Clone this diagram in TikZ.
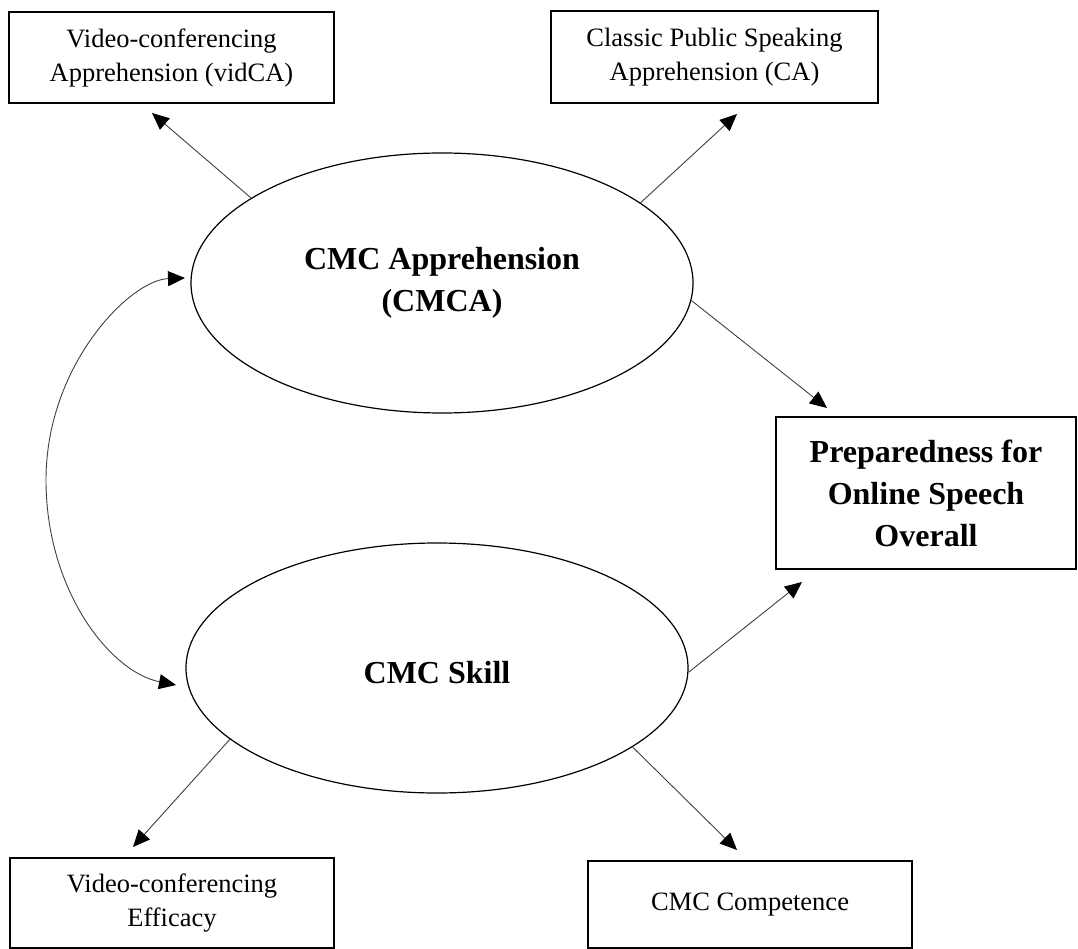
\documentclass[tikz,border=0pt]{standalone}
\usepackage{fontspec}
\setmainfont{Liberation Serif}
\usetikzlibrary{shapes.geometric,arrows.meta}
\begin{document}
\begin{tikzpicture}[x=1pt,y=-1pt,
  box/.style={draw=black,line width=2pt,rectangle,inner sep=0pt,align=center,font=\fontsize{26.5}{34}\selectfont},
  boldbox/.style={box,font=\fontsize{32}{42}\selectfont\bfseries},
  latent/.style={draw=black,line width=1.2pt,ellipse,inner sep=0pt,align=center,font=\fontsize{32}{42}\selectfont\bfseries},
  conn/.style={draw=black!75,line width=0.9pt,-{Triangle[length=17pt,width=15pt,color=black]}},
  biconn/.style={draw=black!75,line width=0.9pt,{Triangle[length=17pt,width=15pt,color=black]}-{Triangle[length=17pt,width=15pt,color=black]}},
]
\useasboundingbox (0,0) rectangle (1078,949);

% observed indicators
\node[box,minimum width=325pt,minimum height=91pt] (vidca) at (171.5,57.5) {Video-conferencing\\Apprehension (vidCA)};
\node[box,minimum width=327pt,minimum height=92pt] (ca) at (714.5,57) {Classic Public Speaking\\Apprehension (CA)};
\node[box,minimum width=324pt,minimum height=90pt] (eff) at (172,903) {Video-conferencing\\Efficacy};
\node[box,minimum width=324pt,minimum height=87pt] (comp) at (750,904.5) {CMC Competence};

% outcome
\node[boldbox,minimum width=300pt,minimum height=152pt] (prep) at (926,493) {Preparedness for\\Online Speech\\Overall};

% latent constructs
\node[latent,minimum width=502pt,minimum height=260pt] (cmca) at (442,283) {CMC Apprehension\\(CMCA)\hspace*{0pt}};
\node[latent,minimum width=502pt,minimum height=250pt,text height=31pt] (skill) at (437,668) {CMC Skill};

% arrow tip coordinates
\coordinate (t1) at (152,113);
\coordinate (t2) at (737,114);
\coordinate (t3) at (827,408);
\coordinate (t4) at (802,582);
\coordinate (t5) at (133,847);
\coordinate (t6) at (737,850);
\coordinate (c7a) at (185,278);
\coordinate (c7m) at (46,480);
\coordinate (c7b) at (176,685);

% connectors
\draw[conn] (cmca.156.3) -- (t1);
\draw[conn] (cmca.22.1) -- (t2);
\draw[conn] (cmca.-4.5) -- (t3);
\draw[conn] (skill.-1.6) -- (t4);
\draw[conn] (skill.199.9) -- (t5);
\draw[conn] (skill.-22.5) -- (t6);

% correlation
\draw[biconn] (c7a) .. controls (130,280) and (46,365) .. (c7m) .. controls (46,590) and (110,672) .. (c7b);
\end{tikzpicture}
\end{document}
